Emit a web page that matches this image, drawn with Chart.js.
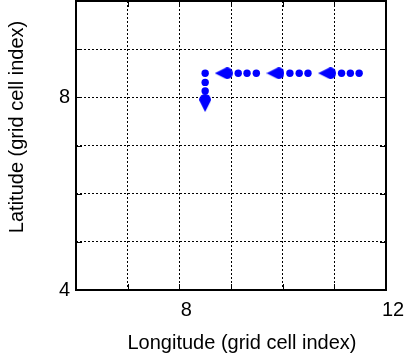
<!DOCTYPE html>
<html>
<head>
<meta charset="utf-8">
<script src="https://cdn.jsdelivr.net/npm/chart.js@4"></script>
<style>
  html, body { margin: 0; padding: 0; background: #fff; }
  canvas { display: block; }
</style>
</head>
<body>
<canvas id="chart" width="406" height="360"></canvas>
<script>
// shaft dots of the four arrows (grid cell index)
const dotX = [9.14, 9.31, 9.49, 10.14, 10.32, 10.49, 11.14, 11.31, 11.48, 8.5, 8.5, 8.5];
const dotY = [8.5, 8.5, 8.5, 8.5, 8.5, 8.5, 8.5, 8.5, 8.5, 8.5, 8.31, 8.13];

// arrow heads: centre and direction in degrees (0 = pointing up)
const headX = [8.86, 9.86, 10.86, 8.5];
const headY = [8.5, 8.5, 8.5, 7.88];
const headDir = [-90, -90, -90, 180];

// axes
const xRange = [6, 12];
const yRange = [4, 10];
const xLabels = [8, 12];
const yLabels = [4, 8];

const BLUE = '#0000ff';
const FONT = '"Liberation Sans", Arial, Helvetica, sans-serif';

// arrow head sprite, pointing up
const makeHead = () => {
  const c = document.createElement('canvas');
  c.width = 12;
  c.height = 18;
  const g = c.getContext('2d');
  g.fillStyle = BLUE;
  g.beginPath();
  g.moveTo(6, 0);
  g.lineTo(12, 12);
  g.arc(6, 12, 6, 0, Math.PI);
  g.closePath();
  g.fill();
  return c;
};

// box, inward ticks and axis titles
const frame = {
  id: 'frame',
  afterDraw(chart) {
    const { ctx, chartArea: a, scales } = chart;
    ctx.save();
    ctx.strokeStyle = '#000';
    ctx.lineWidth = 1;
    ctx.beginPath();
    scales.x.ticks.forEach(t => {
      const px = Math.round(scales.x.getPixelForValue(t.value)) + 0.5;
      ctx.moveTo(px, a.bottom); ctx.lineTo(px, a.bottom - 6);
      ctx.moveTo(px, a.top); ctx.lineTo(px, a.top + 6);
    });
    scales.y.ticks.forEach(t => {
      const py = Math.round(scales.y.getPixelForValue(t.value)) + 0.5;
      ctx.moveTo(a.left, py); ctx.lineTo(a.left + 6, py);
      ctx.moveTo(a.right, py); ctx.lineTo(a.right - 6, py);
    });
    ctx.stroke();

    ctx.lineWidth = 2;
    ctx.strokeRect(a.left, a.top, a.right - a.left, a.bottom - a.top);

    ctx.fillStyle = '#000';
    ctx.font = '20px ' + FONT;
    ctx.textAlign = 'center';
    ctx.textBaseline = 'alphabetic';
    ctx.fillText('Longitude (grid cell index)', 242, 349);
    ctx.translate(23, 127);
    ctx.rotate(-Math.PI / 2);
    ctx.fillText('Latitude (grid cell index)', 0, 0);
    ctx.restore();
  }
};

const gridOpts = { color: '#000', lineWidth: 1, drawTicks: false };
const borderOpts = { display: false, dash: [2, 2] };
const tickFont = { family: FONT, size: 20 };

new Chart(document.getElementById('chart'), {
  type: 'scatter',
  data: {
    datasets: [
      {
        data: dotX.map((x, i) => ({ x, y: dotY[i] })),
        pointRadius: 3.7,
        pointBackgroundColor: BLUE,
        pointBorderWidth: 0
      },
      {
        data: headX.map((x, i) => ({ x, y: headY[i] })),
        pointStyle: makeHead(),
        pointRotation: headDir,
        pointRadius: 8
      }
    ]
  },
  options: {
    responsive: false,
    animation: false,
    layout: { autoPadding: false, padding: { top: 1, right: 20, bottom: 0, left: 0 } },
    plugins: { legend: { display: false }, tooltip: { enabled: false } },
    scales: {
      x: {
        type: 'linear',
        min: xRange[0],
        max: xRange[1],
        afterFit: s => { s.height = 70; s.paddingLeft = 0; s.paddingRight = 0; },
        grid: gridOpts,
        border: borderOpts,
        ticks: {
          stepSize: 1,
          padding: 8,
          labelOffset: 7,
          autoSkip: false,
          maxRotation: 0,
          color: '#000',
          font: tickFont,
          callback: v => (xLabels.includes(v) ? String(v) : '')
        }
      },
      y: {
        type: 'linear',
        min: yRange[0],
        max: yRange[1],
        afterFit: s => { s.width = 76; s.paddingTop = 0; s.paddingBottom = 0; },
        grid: gridOpts,
        border: borderOpts,
        ticks: {
          stepSize: 1,
          padding: 6,
          autoSkip: false,
          color: '#000',
          font: tickFont,
          callback: v => (yLabels.includes(v) ? String(v) : '')
        }
      }
    }
  },
  plugins: [frame]
});
</script>
</body>
</html>
